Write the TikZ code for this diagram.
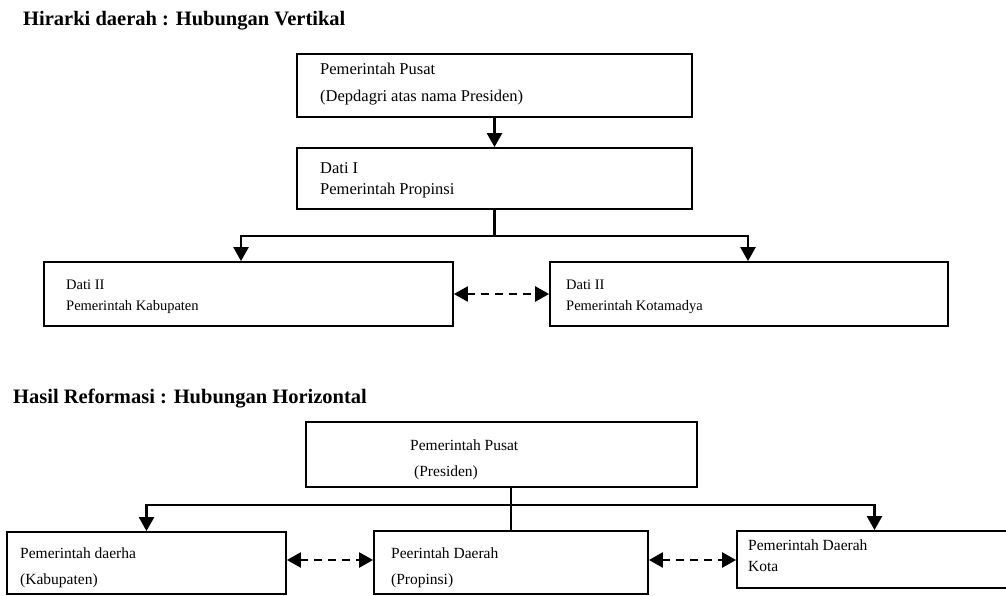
\documentclass[tikz,border=0pt]{standalone}
\usepackage{fontspec}
\setmainfont{Liberation Serif}
\usetikzlibrary{arrows.meta}
\begin{document}
\begin{tikzpicture}[x=1pt,y=-1pt,
  box/.style={draw, line width=1.8pt, inner sep=0pt},
  txt/.style={anchor=base west, inner sep=0pt, font=\fontsize{15.5}{18}\selectfont},
  bigtxt/.style={txt, font=\fontsize{16.5}{19}\selectfont},
  smalltxt/.style={txt, font=\fontsize{14.5}{17}\selectfont},
  heading/.style={anchor=base west, inner sep=0pt, font=\fontsize{20.5}{24}\selectfont\bfseries},
  conn/.style={line width=2.4pt},
  arr/.style={line width=2.4pt, -{Triangle[width=15pt,length=14pt]}},
  dar/.style={line width=2.4pt, dash pattern=on 8pt off 6pt,
    {Triangle[width=15pt,length=14pt]}-{Triangle[width=15pt,length=14pt]}}]
\clip (0,0) rectangle (1006,596);
\fill[white] (0,0) rectangle (1006,596);

% ---- vertical hierarchy ----
\node[heading] (h1) at (23,26) {Hirarki daerah : Hubungan Vertikal};

\node[box, minimum width=395pt, minimum height=63pt] (A1) at (494.5,85.5) {};
\node[bigtxt] (A1a) at (320,75) {Pemerintah Pusat};
\node[bigtxt] (A1b) at (320,102) {(Depdagri atas nama Presiden)};

\node[box, minimum width=395pt, minimum height=61pt] (A2) at (494.5,178.5) {};
\node[bigtxt] (A2a) at (320,174) {Dati I};
\node[bigtxt] (A2b) at (320,195) {Pemerintah Propinsi};

\node[box, minimum width=409pt, minimum height=64pt] (A3) at (248.5,294) {};
\node[smalltxt] (A3a) at (66,289) {Dati II};
\node[smalltxt] (A3b) at (66,310) {Pemerintah Kabupaten};

\node[box, minimum width=398pt, minimum height=64pt] (A4) at (749,294) {};
\node[smalltxt] (A4a) at (566,289) {Dati II};
\node[smalltxt] (A4b) at (566,310) {Pemerintah Kotamadya};

\draw[arr] (A1.south) -- (A2.north);
\coordinate (busA) at (0,236);
\coordinate (leftA) at (241,0);
\coordinate (rightA) at (748,0);
\coordinate (jA) at (A2.south |- busA);
\draw[conn] (A2.south) -- (jA);
\draw[arr] (jA) -| (A3.north -| leftA);
\draw[arr] (jA) -| (A4.north -| rightA);
\draw[dar] (A3.east) -- (A4.west);

% ---- horizontal relation ----
\node[heading] (h2) at (13,403) {Hasil Reformasi : Hubungan Horizontal};

\node[box, minimum width=391pt, minimum height=65pt] (B1) at (501.5,454.5) {};
\node[txt] (B1a) at (410,450) {Pemerintah Pusat};
\node[txt] (B1b) at (414,476) {(Presiden)};

\node[box, minimum width=279pt, minimum height=62pt] (B2) at (146.5,563) {};
\node[txt] (B2a) at (20,558) {Pemerintah daerha};
\node[txt] (B2b) at (20,584) {(Kabupaten)};

\node[box, minimum width=274pt, minimum height=63pt] (B3) at (511,562.5) {};
\node[txt] (B3a) at (391,558) {Peerintah Daerah};
\node[txt] (B3b) at (391,584) {(Propinsi)};

\node[box, minimum width=275pt, minimum height=57pt] (B4) at (874.5,559.5) {};
\node[txt] (B4a) at (748,550) {Pemerintah Daerah};
\node[txt] (B4b) at (748,571) {Kota};

\coordinate (busB) at (0,505);
\coordinate (jB) at (B3.north |- busB);
\draw[conn] (B1.south -| B3.north) -- (B3.north);
\draw[arr] (jB) -| (B2.north);
\draw[arr] (jB) -| (B4.north);
\coordinate (yD) at (0,560);
\draw[dar] (B2.east |- yD) -- (B3.west |- yD);
\draw[dar] (B3.east |- yD) -- (B4.west |- yD);
\end{tikzpicture}
\end{document}
